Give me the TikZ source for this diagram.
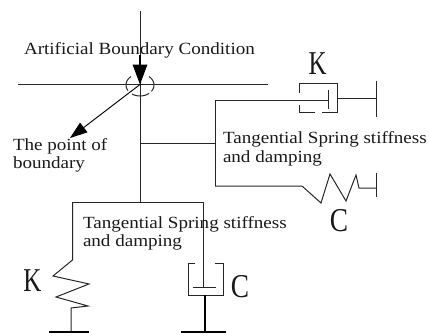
\documentclass[tikz,border=0pt]{standalone}
\usepackage{fontspec}
\setmainfont{Liberation Serif}
\usetikzlibrary{arrows.meta}
\tikzset{
  wire/.style={line width=0.75pt,draw=black!85},
  thickbase/.style={line width=1.7pt,draw=black},
  lbl/.style={inner sep=0pt,outer sep=0pt,anchor=base west,font=\fontsize{12.8pt}{18pt}\selectfont,text=black!90},
  biglbl/.style={inner sep=0pt,outer sep=0pt,anchor=base,font=\fontsize{25pt}{25pt}\selectfont,text=black!90},
  bigarrow/.style={-{Triangle[length=15pt,width=11pt]},line width=0.8pt,draw=black},
  smallarrow/.style={-{Triangle[length=13pt,width=9pt]},line width=0.7pt,draw=black}
}
\newcommand{\narrowK}[1]{\scalebox{0.75}[1]{#1}}
\newcommand{\narrowC}[1]{\scalebox{0.82}[1]{#1}}
\newcommand{\wideT}[1]{\scalebox{1.117}[1]{#1}}
\begin{document}
\begin{tikzpicture}[x=0.75pt,y=-0.75pt]
\useasboundingbox (0,0) rectangle (429,336);
% junctions
\coordinate (top) at (140,11);
\coordinate (bp) at (140,84.5);
\coordinate (bl) at (18,84.5);
\coordinate (br) at (268,84.5);
\coordinate (arrowstart) at (140,55);
\coordinate (ptip) at (70,138);
\coordinate (j1) at (140,143);
\coordinate (j2) at (215,143);
\coordinate (j3) at (140,202);
\coordinate (ru) at (215,100);
\coordinate (rl) at (215,186);
\coordinate (plateR) at (328,100);
\coordinate (l1) at (72.5,202);
\coordinate (r1) at (203,202);
\coordinate (plateB) at (203,287);
% main lines
\draw[wire] (top) -- (j3);
\draw[wire] (bl) -- (br);
\draw[bigarrow] (arrowstart) -- (bp);
\draw[smallarrow] (bp) -- (ptip);
\draw[wire] plot[smooth,domain=150:230,samples=12] ({140+14*cos(\x)},{85+11*sin(\x)});
\draw[wire] plot[smooth,domain=50:125,samples=12] ({140+14*cos(\x)},{85+11*sin(\x)});
\draw[wire] plot[smooth,domain=-50:35,samples=12] ({140+14*cos(\x)},{85+11*sin(\x)});
\draw[wire] (j1) -- (j2);
\draw[wire] (ru) -- (rl);
% upper dashpot
\draw[wire] (ru) -- (plateR);
\draw[wire] (328,90) -- (328,109);
\draw[wire] (299,93) -- (299,83.5) -- (337,83.5) -- (337,112) -- (322,112);
\draw[wire] (315,112) -- (299,112) -- (299,105);
\draw[wire] (337,98) -- (376,98);
\draw[wire] (376,81) -- (376,117);
% lower right spring
\draw[wire] (rl) -- (302,186) -- (321,203) -- (330,174) -- (346,201) -- (356,175) -- (359,188) -- (376,188);
\draw[wire] (376,173) -- (376,197);
% bottom beam
\draw[wire] (l1) -- (r1);
% bottom spring
\draw[wire] (l1) -- (72.5,260) -- (53,276) -- (89,284) -- (56,297) -- (88,306) -- (71,308) -- (71,332);
\draw[thickbase] (49,332) -- (89,332);
% bottom dashpot
\draw[wire] (r1) -- (plateB);
\draw[wire] (193,287) -- (216,287);
\draw[wire] (195,263) -- (188,263) -- (188,295) -- (223,295) -- (223,263) -- (215,263);
\draw[line width=1.1pt,draw=black] (205,295) -- (205,332);
\draw[thickbase] (181,332) -- (226,332);
% text
\node[lbl] (t1) at (24,54) {\wideT{Artificial Boundary Condition}};
\node[lbl] (t2) at (13,150.5) {\wideT{The point of}};
\node[lbl] (t3) at (13,168) {\wideT{boundary}};
\node[lbl] (t4) at (223,143) {\wideT{Tangential Spring stiffness}};
\node[lbl] (t5) at (223,162) {\wideT{and damping}};
\node[lbl] (t6) at (83,228) {\wideT{Tangential Spring stiffness}};
\node[lbl] (t7) at (83,246.5) {\wideT{and damping}};
\node[biglbl] (k1) at (317.7,74) {\narrowK{K}};
\node[biglbl] (c1) at (339,231) {\narrowC{C}};
\node[biglbl] (k2) at (32.5,291.5) {\narrowK{K}};
\node[biglbl] (c2) at (240,297) {\narrowC{C}};
\end{tikzpicture}
\end{document}
